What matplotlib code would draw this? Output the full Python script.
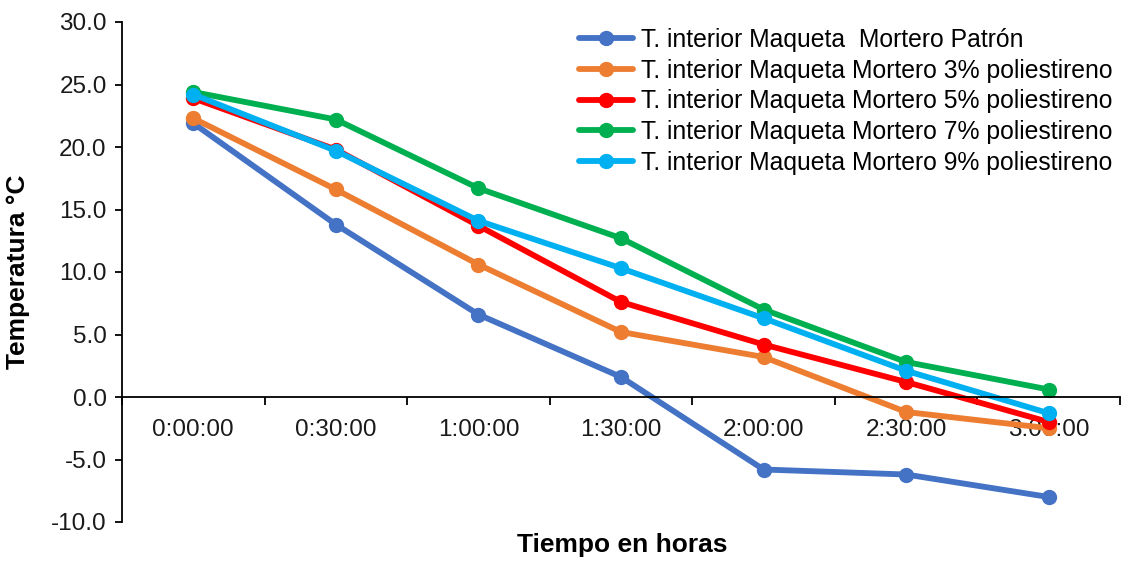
import matplotlib
matplotlib.use("Agg")
import matplotlib.pyplot as plt
from matplotlib.ticker import FormatStrFormatter

plt.rcParams['font.family'] = ['Liberation Sans', 'DejaVu Sans']

times = ["0:00:00", "0:30:00", "1:00:00", "1:30:00", "2:00:00", "2:30:00", "3:00:00"]
patron = [21.9, 13.8, 6.6, 1.6, -5.8, -6.2, -8.0]
p3 = [22.3, 16.6, 10.6, 5.2, 3.2, -1.2, -2.5]
p5 = [23.9, 19.8, 13.7, 7.6, 4.2, 1.2, -2.0]
p7 = [24.4, 22.2, 16.7, 12.7, 7.0, 2.8, 0.6]
p9 = [24.2, 19.7, 14.1, 10.3, 6.3, 2.1, -1.3]

labels = ["T. interior Maqueta  Mortero Patrón",
          "T. interior Maqueta Mortero 3% poliestireno",
          "T. interior Maqueta Mortero 5% poliestireno",
          "T. interior Maqueta Mortero 7% poliestireno",
          "T. interior Maqueta Mortero 9% poliestireno"]
colors = ["#4472C4", "#ED7D31", "#FF0000", "#00B050", "#00B0F0"]
series = [patron, p3, p5, p7, p9]

fig = plt.figure(figsize=(11.26, 5.61), dpi=100)
ax = fig.add_axes([122/1126, 1 - 522/561, (1120-122)/1126, 500/561])

x = list(range(len(times)))
for s, c, l in zip(series, colors, labels):
    ax.plot(x, s, color=c, lw=4.2, marker='o', ms=10, label=l, solid_capstyle='round')

ax.set_xlim(-0.5, len(times) - 0.5)
ax.set_ylim(-10, 30)
ax.set_yticks([-10, -5, 0, 5, 10, 15, 20, 25, 30])
ax.yaxis.set_major_formatter(FormatStrFormatter('%.1f'))
ax.set_xticks([i + 0.5 for i in range(-1, len(times))], minor=False)
ax.set_xticklabels([])
ax.set_xticks(x, minor=True)
ax.set_xticklabels(times, minor=True)
ax.tick_params(axis='x', which='minor', length=0, labelsize=17.5, pad=16, colors='#1a1a1a')
ax.tick_params(axis='x', which='major', length=6, width=1.3, direction='out')
ax.tick_params(axis='y', length=5, width=1.3, labelsize=17.5, direction='out', pad=6, labelcolor='#1a1a1a')

ax.spines['top'].set_visible(False)
ax.spines['right'].set_visible(False)
ax.spines['bottom'].set_position(('data', 0))
ax.spines['left'].set_linewidth(1.3)
ax.spines['bottom'].set_linewidth(1.3)

fig.text(18/1126, 1 - 272/561, "Temperatura °C", rotation=90, ha='center', va='center',
         fontsize=19, fontweight='bold')
fig.text(622/1126, 1 - 545/561, "Tiempo en horas", ha='center', va='center',
         fontsize=19, fontweight='bold')

leg = ax.legend(loc='upper left', bbox_to_anchor=(569/1126, 1 - 18/561), bbox_transform=fig.transFigure,
                frameon=False, fontsize=17.8, handlelength=2.2, labelspacing=0.27,
                handletextpad=0.3, borderaxespad=0)

fig.savefig("out.png", dpi=100)
